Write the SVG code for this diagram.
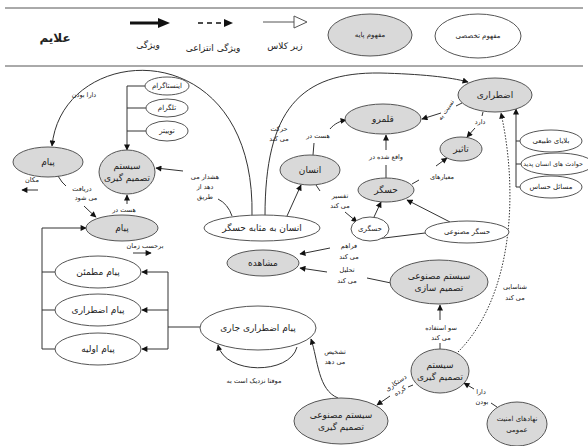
<svg xmlns="http://www.w3.org/2000/svg" width="588" height="446" viewBox="0 0 588 446">
<defs>
<marker id="a" viewBox="0 0 10 10" refX="9" refY="5" markerWidth="7" markerHeight="6" markerUnits="userSpaceOnUse" orient="auto"><path d="M0,0 L10,5 L0,10 z" fill="#111"/></marker>
<style>
.g{fill:#d9d9d9;stroke:#555;stroke-width:1}
.w{fill:#fff;stroke:#555;stroke-width:1}
text{font-family:"DejaVu Sans","Noto Sans",sans-serif;text-anchor:middle;fill:#222}
.t{font-size:9px}
.s{font-size:6.5px}
.n{font-size:7px}
.l{font-size:9px}
.c{fill:none;stroke:#333;stroke-width:1}
.m{marker-end:url(#a)}
</style>
</defs>
<rect width="588" height="446" fill="#fff"/>
<g id="legend">
<path d="M5,8 L583,8 M5,66 L583,66" stroke="#555" stroke-width="1"/>
<text x="55" y="42" style="font-size:12px;font-weight:bold">علایم</text>
<line x1="130" y1="23" x2="160" y2="23" stroke="#111" stroke-width="3"/>
<polygon points="158,18 170,23 158,28" fill="#111"/>
<text class="l" x="148" y="48">ویژگی</text>
<line x1="198" y1="23" x2="224" y2="23" stroke="#111" stroke-width="1.5" stroke-dasharray="5,4"/>
<polygon points="224,19 233,23 224,27" fill="#111"/>
<text class="l" x="213" y="51">ویژگی انتزاعی</text>
<line x1="263" y1="22" x2="294" y2="22" stroke="#555" stroke-width="1"/>
<polygon points="294,16 307,22 294,28" fill="#fff" stroke="#555"/>
<text class="l" x="285" y="49">زیر کلاس</text>
<ellipse class="g" cx="370" cy="35" rx="42" ry="21"/>
<text class="n" x="370" y="37">مفهوم پایه</text>
<ellipse class="w" cx="478" cy="36" rx="43" ry="22"/>
<text class="n" x="478" y="38">مفهوم تخصصی</text>
</g>
<g id="connectors">
<path class="c m" d="M252,216 C256,30 62,40 52,146"/>
<text class="s" x="84" y="97">دارا بودن</text>
<path class="c m" d="M265,216 C265,110 300,72 380,73 C420,74 450,77 468,82"/>
<text class="s" x="279" y="131">حرکت</text>
<text class="s" x="279" y="141">می کند</text>
<path class="c" d="M232,216 Q228,204 218,199"/>
<text class="s" x="205" y="179">هشدار می</text>
<text class="s" x="205" y="189">دهد از</text>
<text class="s" x="205" y="199">طریق</text>
<path class="c m" d="M183,171 L156,168"/>
<path class="c m" d="M287,216 L301,185"/>
<path class="c" d="M313,155 L314,143"/>
<text class="s" x="318" y="138">هست در</text>
<path class="c m" d="M330,129 C334,124 340,121 346,120"/>
<path class="c" d="M316,185 L320,191"/>
<text class="s" x="340" y="198">تفسیر</text>
<text class="s" x="340" y="208">می کند</text>
<path class="c m" d="M345,212 L357,222"/>
<path class="c m" d="M374,217 L381,202"/>
<path class="c m" d="M450,222 L407,200"/>
<path class="c" d="M386,178 L386,165"/>
<text class="s" x="386" y="159">واقع شده در</text>
<path class="c m" d="M386,150 L386,135"/>
<path class="c" d="M412,184 L419,180"/>
<text class="s" x="442" y="179">معیارهای</text>
<path class="c m" d="M436,166 L447,158"/>
<path class="c" d="M483,112 L482,116"/>
<text class="s" x="480" y="124">دارد</text>
<path class="c m" d="M475,128 L467,137"/>
<path class="c" d="M462,103 L456,106"/>
<text class="s" x="446" y="112" transform="rotate(-55 446 110)">نسبت به</text>
<path class="c m" d="M441,113 L422,119"/>
<path class="c m" d="M516,187 L516,109"/>
<path class="c" d="M516,141 L520,141 M516,164 L521,164 M516,187 L520,187"/>
<path class="c m" d="M458,352 C510,300 520,200 501,113" stroke-dasharray="1.5,1.5"/>
<text class="s" x="515" y="289">شناسایی</text>
<text class="s" x="515" y="300">می کند</text>
<path class="c" d="M440,350 L440,343"/>
<text class="s" x="441" y="330">سو استفاده</text>
<text class="s" x="441" y="340">می کند</text>
<path class="c m" d="M440,320 L440,305"/>
<path class="c" d="M413,385 L408,387"/>
<text class="s" x="396" y="385" transform="rotate(-35 396 383)">دستکاری</text>
<text class="s" x="400" y="393" transform="rotate(-35 400 391)">کرده</text>
<path class="c m" d="M390,396 L377,405"/>
<path class="c" d="M497,407 L491,403"/>
<text class="s" x="481" y="394">دارا</text>
<text class="s" x="482" y="404">بودن</text>
<path class="c m" d="M474,389 L464,383"/>
<path class="c m" d="M338,398 C318,390 318,360 311,339"/>
<text class="s" x="335" y="354">تشخیص</text>
<text class="s" x="335" y="364">می دهد</text>
<path class="c m" d="M297,347 C290,375 225,375 218,345"/>
<text class="s" x="254" y="383">موقتا نزدیک است به</text>
<path class="c" d="M425,233 L368,240"/>
<text class="s" x="349" y="248">فراهم</text>
<text class="s" x="349" y="259">می کند</text>
<text class="s" x="347" y="272">تحلیل</text>
<text class="s" x="347" y="283">می کند</text>
<path class="c m" d="M330,248 L300,254"/>
<path class="c m" d="M327,272 L300,268"/>
<path class="c" d="M367,278 L391,283"/>
<path class="c" d="M58,176 Q62,183 66,186"/>
<text class="s" x="82" y="191">دریافت</text>
<text class="s" x="86" y="200">می شود</text>
<path class="c m" d="M84,206 Q90,212 96,217"/>
<path class="c m" d="M127,204 L127,195"/>
<text class="s" x="124" y="212">هست در</text>
<text class="s" x="32" y="182">مکان</text>
<path class="c m" d="M38,190 L22,190"/>
<text class="s" x="145" y="248">برحسب زمان</text>
<path class="c m" d="M133,253 L151,253"/>
<path class="c m" d="M127,86 L127,150"/>
<path class="c" d="M127,86 L145,86 M127,108 L146,108 M127,131 L146,131"/>
<path class="c m" d="M55,349 L42,349 L42,228 L86,228"/>
<path class="c" d="M42,272 L55,272 M42,310 L55,310"/>
<path class="c" d="M168,272 L168,349 M168,327 L200,327"/>
<path class="c m" d="M168,272 L142,272"/>
<path class="c m" d="M168,310 L142,310"/>
<path class="c m" d="M168,349 L142,349"/>
</g>
<g id="n-payam1"><ellipse class="g" cx="48" cy="162" rx="35" ry="15"/><text class="t" x="48" y="165">پیام</text></g>
<g id="n-system1"><ellipse class="g" cx="127" cy="172" rx="28" ry="22"/><text class="t" x="127" y="169">سیستم</text><text class="t" x="127" y="181">تصمیم گیری</text></g>
<g id="n-insta"><ellipse class="w" cx="167" cy="86" rx="22" ry="9"/><text class="n" x="167" y="88">اینستاگرام</text></g>
<g id="n-telegram"><ellipse class="w" cx="167" cy="108" rx="21" ry="9"/><text class="n" x="167" y="110">تلگرام</text></g>
<g id="n-twitter"><ellipse class="w" cx="167" cy="131" rx="21" ry="10"/><text class="n" x="167" y="133">توییتر</text></g>
<g id="n-payam2"><ellipse class="g" cx="122" cy="228" rx="36" ry="13"/><text class="t" x="122" y="231">پیام</text></g>
<g id="n-motmaen"><ellipse class="w" cx="98" cy="272" rx="43" ry="16"/><text class="t" x="98" y="275">پیام مطمئن</text></g>
<g id="n-ezterari-msg"><ellipse class="w" cx="98" cy="310" rx="43" ry="16"/><text class="t" x="98" y="313">پیام اضطراری</text></g>
<g id="n-avalie"><ellipse class="w" cx="98" cy="349" rx="43" ry="16"/><text class="t" x="98" y="352">پیام اولیه</text></g>
<g id="n-ensan-sensor"><ellipse class="w" cx="262" cy="228" rx="58" ry="13"/><text class="t" x="262" y="231">انسان به مثابه حسگر</text></g>
<g id="n-ensan"><ellipse class="g" cx="310" cy="170" rx="30" ry="15"/><text class="t" x="310" y="173">انسان</text></g>
<g id="n-qalamro"><ellipse class="g" cx="383" cy="119" rx="38" ry="15"/><text class="t" x="383" y="122">قلمرو</text></g>
<g id="n-ezterari"><ellipse class="g" cx="495" cy="95" rx="37" ry="17"/><text class="t" x="495" y="98">اضطراری</text></g>
<g id="n-tasir"><ellipse class="g" cx="461" cy="149" rx="21" ry="12"/><text class="t" x="461" y="152">تاثیر</text></g>
<g id="n-sensor"><ellipse class="g" cx="386" cy="190" rx="28" ry="12"/><text class="t" x="386" y="193">حسگر</text></g>
<g id="n-sensing"><ellipse class="w" cx="370" cy="229" rx="19" ry="12"/><text class="n" x="370" y="231">حسگری</text></g>
<g id="n-artificial-sensor"><ellipse class="w" cx="467" cy="232" rx="42" ry="11"/><text class="n" x="467" y="234">حسگر مصنوعی</text></g>
<g id="n-moshahede"><ellipse class="g" cx="263" cy="263" rx="36" ry="13"/><text class="t" x="263" y="266">مشاهده</text></g>
<g id="n-balaya"><ellipse class="w" cx="551" cy="141" rx="31" ry="11"/><text class="n" x="551" y="143">بلایای طبیعی</text></g>
<g id="n-havades"><ellipse class="w" cx="557" cy="164" rx="36" ry="11"/><text class="n" x="553" y="166" style="font-size:6.3px">حوادث های انسان پدید</text></g>
<g id="n-masael"><ellipse class="w" cx="551" cy="187" rx="31" ry="11"/><text class="n" x="551" y="189">مسائل حساس</text></g>
<g id="n-dss-artificial"><ellipse class="g" cx="439" cy="282" rx="49" ry="22"/><text class="t" x="439" y="279">سیستم مصنوعی</text><text class="t" x="439" y="291">تصمیم سازی</text></g>
<g id="n-current"><ellipse class="w" cx="258" cy="328" rx="58" ry="22"/><text class="t" x="258" y="331">پیام اضطراری جاری</text></g>
<g id="n-system2"><ellipse class="g" cx="440" cy="371" rx="29" ry="22"/><text class="t" x="440" y="368">سیستم</text><text class="t" x="440" y="380">تصمیم گیری</text></g>
<g id="n-ai-decision"><ellipse class="g" cx="341" cy="421" rx="47" ry="23"/><text class="t" x="341" y="418">سیستم مصنوعی</text><text class="t" x="341" y="430">تصمیم گیری</text></g>
<g id="n-institutions"><ellipse class="g" cx="517" cy="424" rx="30" ry="22"/><text class="n" x="517" y="421">نهادهای امنیت</text><text class="n" x="517" y="432">عمومی</text></g>
</svg>
